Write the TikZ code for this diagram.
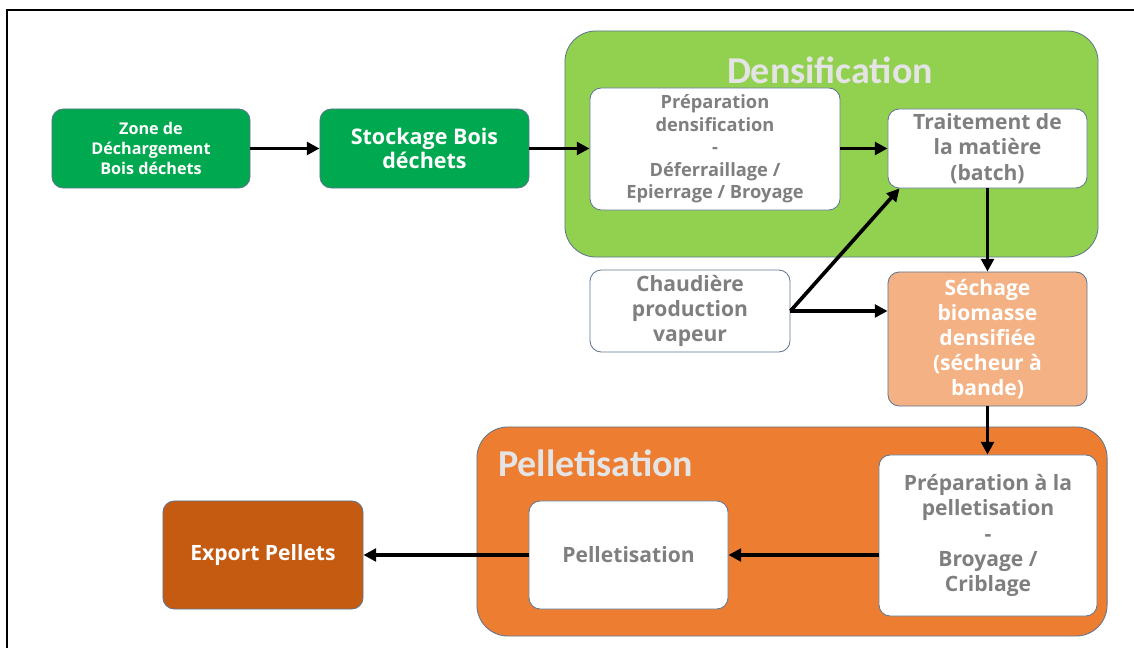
\documentclass[tikz,border=0pt]{standalone}
\usepackage{fontspec}
\setmainfont{Open Sans}
\newfontfamily\titlefont{Carlito}
\usetikzlibrary{arrows.meta, positioning}
\definecolor{WoodGreen}{HTML}{00A84F}
\definecolor{DensGreen}{HTML}{92D050}
\definecolor{DryOrange}{HTML}{F4B183}
\definecolor{PelletOrange}{HTML}{ED7D31}
\definecolor{ExportBrown}{HTML}{C55A11}
\definecolor{BoxLine}{HTML}{5F7790}
\definecolor{TextGray}{HTML}{7F7F7F}
\definecolor{TitleGray}{HTML}{E4E4E4}

\begin{document}
\begin{tikzpicture}[
        x=0.025cm, y=-0.025cm,
        box/.style={rectangle, rounded corners=8pt, draw=BoxLine, line width=0.6pt, align=center, inner sep=2pt, font=\bfseries\fontsize{15}{17.9}\selectfont},
        greenbox/.style={box, fill=WoodGreen, text=white},
        whitebox/.style={box, fill=white, text=TextGray},
        drybox/.style={box, fill=DryOrange, text=white},
        exportbox/.style={box, fill=ExportBrown, text=white},
        group/.style={rectangle, rounded corners=22pt, draw=BoxLine, line width=0.6pt},
        grouptitle/.style={font=\titlefont\bfseries\fontsize{27}{30}\selectfont, text=TitleGray, inner sep=0pt},
        arrow/.style={-{Triangle[length=9pt, width=9pt]}, line width=2.6pt, black}
      ]
        \useasboundingbox (0,0) rectangle (1134,648);
        \draw[line width=1.5pt] (7,648) -- (7,10) -- (1134,10);

        % Groups
        \node[group, fill=DensGreen, minimum width=13.325cm, minimum height=5.65cm] (densgroup) at (831.5,144) {};
        \node[grouptitle] (denstitle) at (830,70) {Densification};
        \node[group, fill=PelletOrange, minimum width=15.75cm, minimum height=5.225cm] (pelgroup) at (792,531.5) {};
        \node[grouptitle, anchor=west] (peltitle) at (498,463) {Pelletisation};

        % Nodes
        \node[greenbox, minimum width=4.95cm, minimum height=1.975cm, font=\bfseries\fontsize{11.5}{14.2}\selectfont] (zone) at (151,148.5) {Zone de\\Déchargement\\Bois déchets};
        \node[greenbox, minimum width=5.225cm, minimum height=1.975cm, font=\bfseries\fontsize{15.3}{17.5}\selectfont] (stock) at (424.5,148.5) {Stockage Bois\\déchets};
        \node[whitebox, minimum width=6.25cm, minimum height=3.05cm, font=\bfseries\fontsize{13}{16}\selectfont] (prepdens) at (715,149) {Préparation\\densification\\-\\Déferraillage /\\Epierrage / Broyage};
        \node[whitebox, minimum width=4.975cm, minimum height=1.975cm] (trait) at (987.5,148.5) {Traitement de\\la matière\\(batch)};
        \node[whitebox, minimum width=5cm, minimum height=2.05cm] (chaud) at (690,311) {Chaudière\\production\\vapeur};
        \node[drybox, minimum width=4.975cm, minimum height=3.35cm] (sech) at (987.5,339) {Séchage\\biomasse\\densifiée\\(sécheur à\\bande)};
        \node[whitebox, minimum width=5.45cm, minimum height=4.025cm] (preppel) at (988,535.5) {Préparation à la\\pelletisation\\-\\Broyage /\\Criblage};
        \node[whitebox, minimum width=4.975cm, minimum height=2.7cm] (pel) at (628.5,555) {Pelletisation};
        \node[exportbox, minimum width=5cm, minimum height=2.7cm] (export) at (263,555) {Export Pellets};

        % Edges
        \draw[arrow] (zone) -- (stock);
        \draw[arrow] (stock) -- (prepdens.west |- stock);
        \draw[arrow] (prepdens.east |- trait) -- (trait);
        \draw[arrow] (trait) -- (sech);
        \draw[arrow] (chaud) -- (sech.west |- chaud);
        \draw[arrow] (chaud.east) -- ([xshift=0.3cm]trait.south west);
        \draw[arrow] (sech) -- (preppel.north -| sech);
        \draw[arrow] (preppel.west |- pel) -- (pel);
        \draw[arrow] (pel) -- (export);
      \end{tikzpicture}
\end{document}
